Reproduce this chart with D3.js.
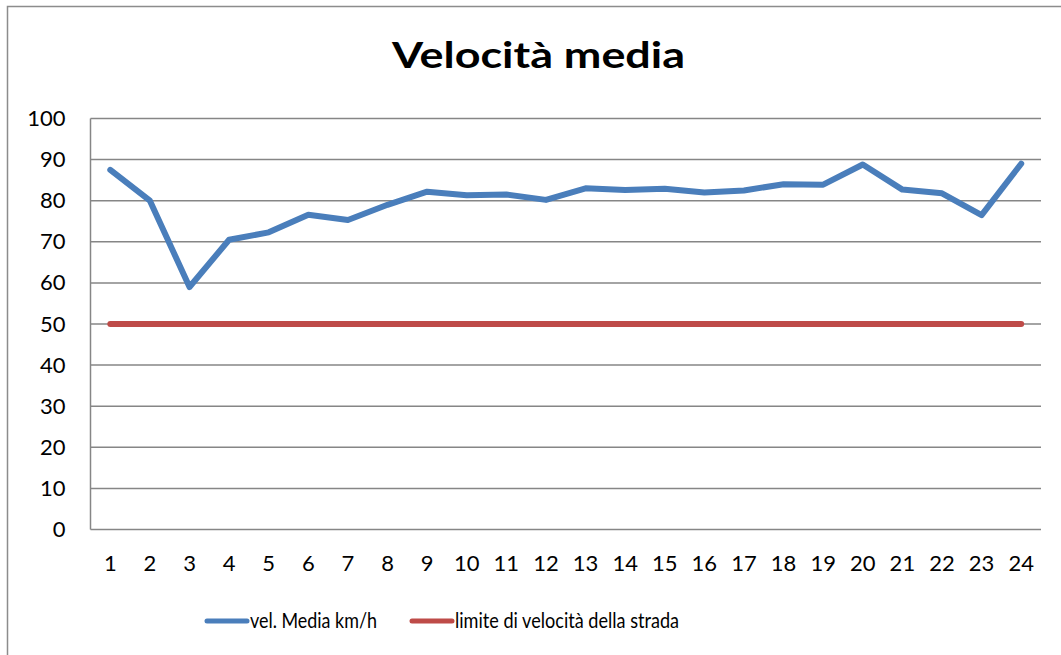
<!DOCTYPE html>
<html>
<head>
<meta charset="utf-8">
<script src="https://cdn.jsdelivr.net/npm/d3@7"></script>
<style>
  body { margin: 0; background: #fff; }
  text { font-family: Lato, "Open Sans", sans-serif; fill: #000; }
</style>
</head>
<body>
<script>
const width = 1061;
const height = 655;

const hours = d3.range(1, 25);
const velMedia = [87.5, 80, 59, 70.5, 72.3, 76.6, 75.3, 79, 82.2, 81.3, 81.5, 80.2,
                  83, 82.6, 82.9, 82, 82.5, 84, 83.9, 88.8, 82.7, 81.8, 76.5, 89];
const limite = hours.map(() => 50);
const yTicks = [0, 10, 20, 30, 40, 50, 60, 70, 80, 90, 100];
const seriesNames = ['vel. Media km/h', 'limite di velocità della strada'];
const seriesColors = ['#4a7ebb', '#be4b48'];

const svg = d3.select('body')
              .append('svg')
              .attr('width', width)
              .attr('height', height);

// chart frame (right and bottom run off the picture)
svg.append('rect')
   .attr('x', 7.5).attr('y', 6.5)
   .attr('width', 1070).attr('height', 670)
   .attr('fill', 'none')
   .attr('stroke', '#8c8c8c')
   .attr('stroke-width', 1.5);

svg.append('text')
   .attr('x', 392).attr('y', 68)
   .attr('font-size', 37)
   .attr('font-weight', 'bold')
   .attr('textLength', 293)
   .attr('lengthAdjust', 'spacingAndGlyphs')
   .text('Velocità media');

const x = d3.scaleBand().domain(hours).range([90.5, 1041]);
const y = d3.scaleLinear().domain([0, 100]).range([529.5, 118.5]);

// gridlines
svg.append('g')
   .selectAll('line')
   .data(yTicks)
   .enter().append('line')
   .attr('x1', 90.5).attr('x2', 1041)
   .attr('y1', d => y(d)).attr('y2', d => y(d))
   .attr('stroke', '#868686')
   .attr('stroke-width', 1.5);

// left axis line
svg.append('line')
   .attr('x1', 90.5).attr('x2', 90.5)
   .attr('y1', y(100)).attr('y2', y(0))
   .attr('stroke', '#868686')
   .attr('stroke-width', 1.5);

const yAxis = svg.append('g')
   .attr('transform', 'translate(90.5,0)')
   .call(d3.axisLeft(y).tickValues(yTicks).tickSize(0).tickPadding(25));
yAxis.select('.domain').remove();
yAxis.selectAll('text').attr('font-size', 22).attr('fill', '#000');

const xAxis = svg.append('g')
   .attr('transform', 'translate(0,' + y(0) + ')')
   .call(d3.axisBottom(x).tickSize(0).tickPadding(26));
xAxis.select('.domain').remove();
xAxis.selectAll('text').attr('font-size', 22).attr('fill', '#000');

const line = d3.line()
   .x((d, i) => x(hours[i]) + x.bandwidth() / 2)
   .y(d => y(d));

[limite, velMedia].forEach((vals, k) => {
  svg.append('path')
     .datum(vals)
     .attr('d', line)
     .attr('fill', 'none')
     .attr('stroke', k === 0 ? seriesColors[1] : seriesColors[0])
     .attr('stroke-width', 6)
     .attr('stroke-linejoin', 'round')
     .attr('stroke-linecap', 'round');
});

// legend
const legendX = [207, 412];
const legendW = [127, 224];
const legend = svg.append('g')
   .selectAll('g')
   .data(seriesNames)
   .enter().append('g')
   .attr('transform', (d, i) => 'translate(' + legendX[i] + ',621)');

legend.append('line')
   .attr('x1', 0).attr('x2', 40)
   .attr('stroke', (d, i) => seriesColors[i])
   .attr('stroke-width', 5)
   .attr('stroke-linecap', 'round');

legend.append('text')
   .attr('x', 43)
   .attr('y', 7)
   .attr('font-size', 21.5)
   .attr('textLength', (d, i) => legendW[i])
   .attr('lengthAdjust', 'spacingAndGlyphs')
   .text(d => d);
</script>
</body>
</html>
